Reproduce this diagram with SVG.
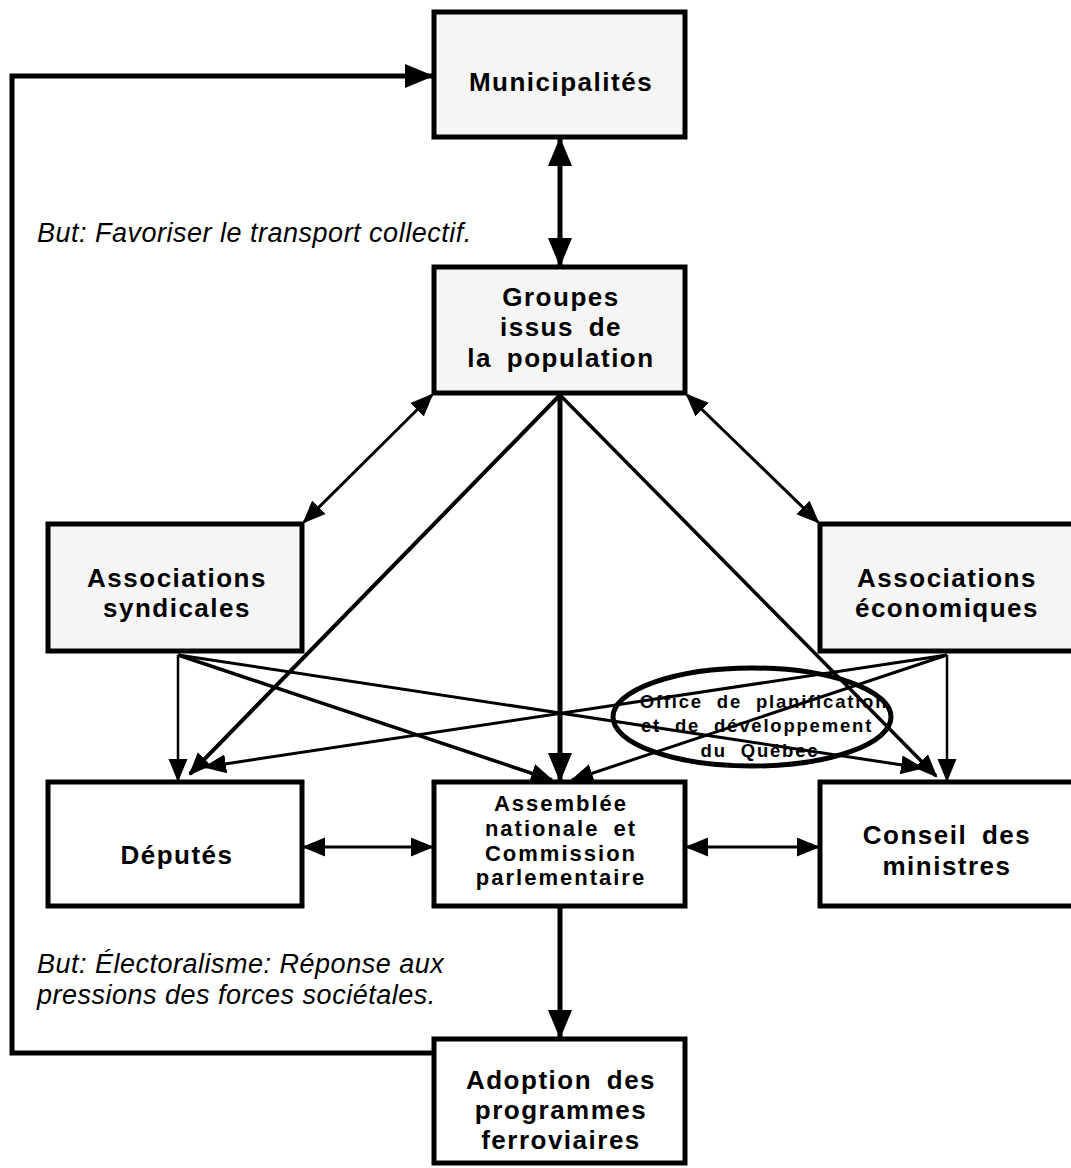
<svg xmlns="http://www.w3.org/2000/svg" width="1071" height="1168" viewBox="0 0 1071 1168">
<style>
.box{stroke:#000;stroke-width:5;}
.gray{fill:#f5f5f5;}
.white{fill:#fff;}
.t{font-family:"Liberation Sans",Arial,sans-serif;font-weight:bold;font-size:26px;letter-spacing:1.5px;word-spacing:6px;text-anchor:middle;fill:#000;}
.ts{font-size:22px;letter-spacing:2px;}
.to{font-size:18.5px;letter-spacing:1.8px;word-spacing:7px;}
.it{font-family:"Liberation Sans",Arial,sans-serif;font-style:italic;font-size:27px;letter-spacing:0.5px;fill:#000;}
.c{fill:none;stroke:#000;}
</style>
<defs>
<marker id="aL" markerUnits="userSpaceOnUse" markerWidth="32" markerHeight="26" refX="27" refY="12" orient="auto-start-reverse" viewBox="0 0 32 26"><path d="M0,0 L29,12 L0,24 z" fill="#000"/></marker>
<marker id="aM" markerUnits="userSpaceOnUse" markerWidth="26" markerHeight="22" refX="21" refY="9.5" orient="auto-start-reverse" viewBox="0 0 26 22"><path d="M0,0 L23,9.5 L0,19 z" fill="#000"/></marker>
</defs>

<g id="municipalites"><rect class="box gray" x="434" y="12" width="251" height="125"/><text class="t" x="561" y="91">Municipalités</text></g>
<g id="groupes"><rect class="box gray" x="434" y="267" width="251" height="126"/><text class="t" x="561" y="306">Groupes</text><text class="t" x="561" y="336">issus de</text><text class="t" x="561" y="367">la population</text></g>
<g id="syndicales"><rect class="box gray" x="48" y="524" width="254" height="127"/><text class="t" x="177" y="587">Associations</text><text class="t" x="177" y="617">syndicales</text></g>
<g id="economiques"><rect class="box gray" x="820" y="524" width="256" height="127"/><text class="t" x="947" y="587">Associations</text><text class="t" x="947" y="617">économiques</text></g>
<g id="deputes"><rect class="box white" x="48" y="782" width="254" height="124"/><text class="t" x="177" y="864">Députés</text></g>
<g id="assemblee"><rect class="box white" x="434" y="782" width="251" height="124"/><text class="t ts" x="561" y="811">Assemblée</text><text class="t ts" x="561" y="836">nationale et</text><text class="t ts" x="561" y="861">Commission</text><text class="t ts" x="561" y="885">parlementaire</text></g>
<g id="conseil"><rect class="box white" x="820" y="782" width="256" height="124"/><text class="t" x="947" y="844">Conseil des</text><text class="t" x="947" y="875">ministres</text></g>
<g id="adoption"><rect class="box white" x="434" y="1039" width="251" height="124"/><text class="t" x="561" y="1089">Adoption des</text><text class="t" x="561" y="1119">programmes</text><text class="t" x="561" y="1149">ferroviaires</text></g>
<g id="office"><ellipse cx="752" cy="717" rx="139" ry="49" fill="#fff" stroke="#000" stroke-width="5"/><text class="t to" x="764" y="708">Office de planification</text><text class="t to" x="757" y="732">et de développement</text><text class="t to" x="760" y="757">du Québec</text></g>

<g id="notes">
<text class="it" x="37" y="242">But: Favoriser le transport collectif.</text>
<text class="it" x="37" y="973">But: Électoralisme: Réponse aux</text>
<text class="it" x="37" y="1004">pressions des forces sociétales.</text>
</g>

<g id="connectors">
<path class="c" stroke-width="5" d="M432,1053 H12 V76 H432" marker-end="url(#aL)"/>
<line class="c" stroke-width="5" x1="560" y1="139" x2="560" y2="265" marker-start="url(#aL)" marker-end="url(#aL)"/>
<line class="c" stroke-width="3" x1="432" y1="395" x2="304" y2="522" marker-start="url(#aM)" marker-end="url(#aM)"/>
<line class="c" stroke-width="3" x1="687" y1="395" x2="818" y2="522" marker-start="url(#aM)" marker-end="url(#aM)"/>
<line class="c" stroke-width="4" x1="560" y1="395" x2="190" y2="774" marker-end="url(#aM)"/>
<line class="c" stroke-width="5" x1="560" y1="395" x2="560" y2="780" marker-end="url(#aL)"/>
<line class="c" stroke-width="3.5" x1="560" y1="395" x2="936" y2="776" marker-end="url(#aM)"/>
<line class="c" stroke-width="2.5" x1="178" y1="655" x2="178" y2="780" marker-end="url(#aM)"/>
<line class="c" stroke-width="3.5" x1="178" y1="655" x2="552" y2="780" marker-end="url(#aM)"/>
<line class="c" stroke-width="3" x1="178" y1="655" x2="922" y2="768" marker-end="url(#aM)"/>
<line class="c" stroke-width="2.5" x1="947" y1="655" x2="947" y2="780" marker-end="url(#aM)"/>
<line class="c" stroke-width="3" x1="947" y1="655" x2="205" y2="767" marker-end="url(#aM)"/>
<line class="c" stroke-width="3" x1="947" y1="655" x2="572" y2="780" marker-end="url(#aM)"/>
<line class="c" stroke-width="3" x1="304" y1="847" x2="432" y2="847" marker-start="url(#aM)" marker-end="url(#aM)"/>
<line class="c" stroke-width="3" x1="687" y1="847" x2="818" y2="847" marker-start="url(#aM)" marker-end="url(#aM)"/>
<line class="c" stroke-width="5" x1="560" y1="908" x2="560" y2="1037" marker-end="url(#aL)"/>
</g>
</svg>
